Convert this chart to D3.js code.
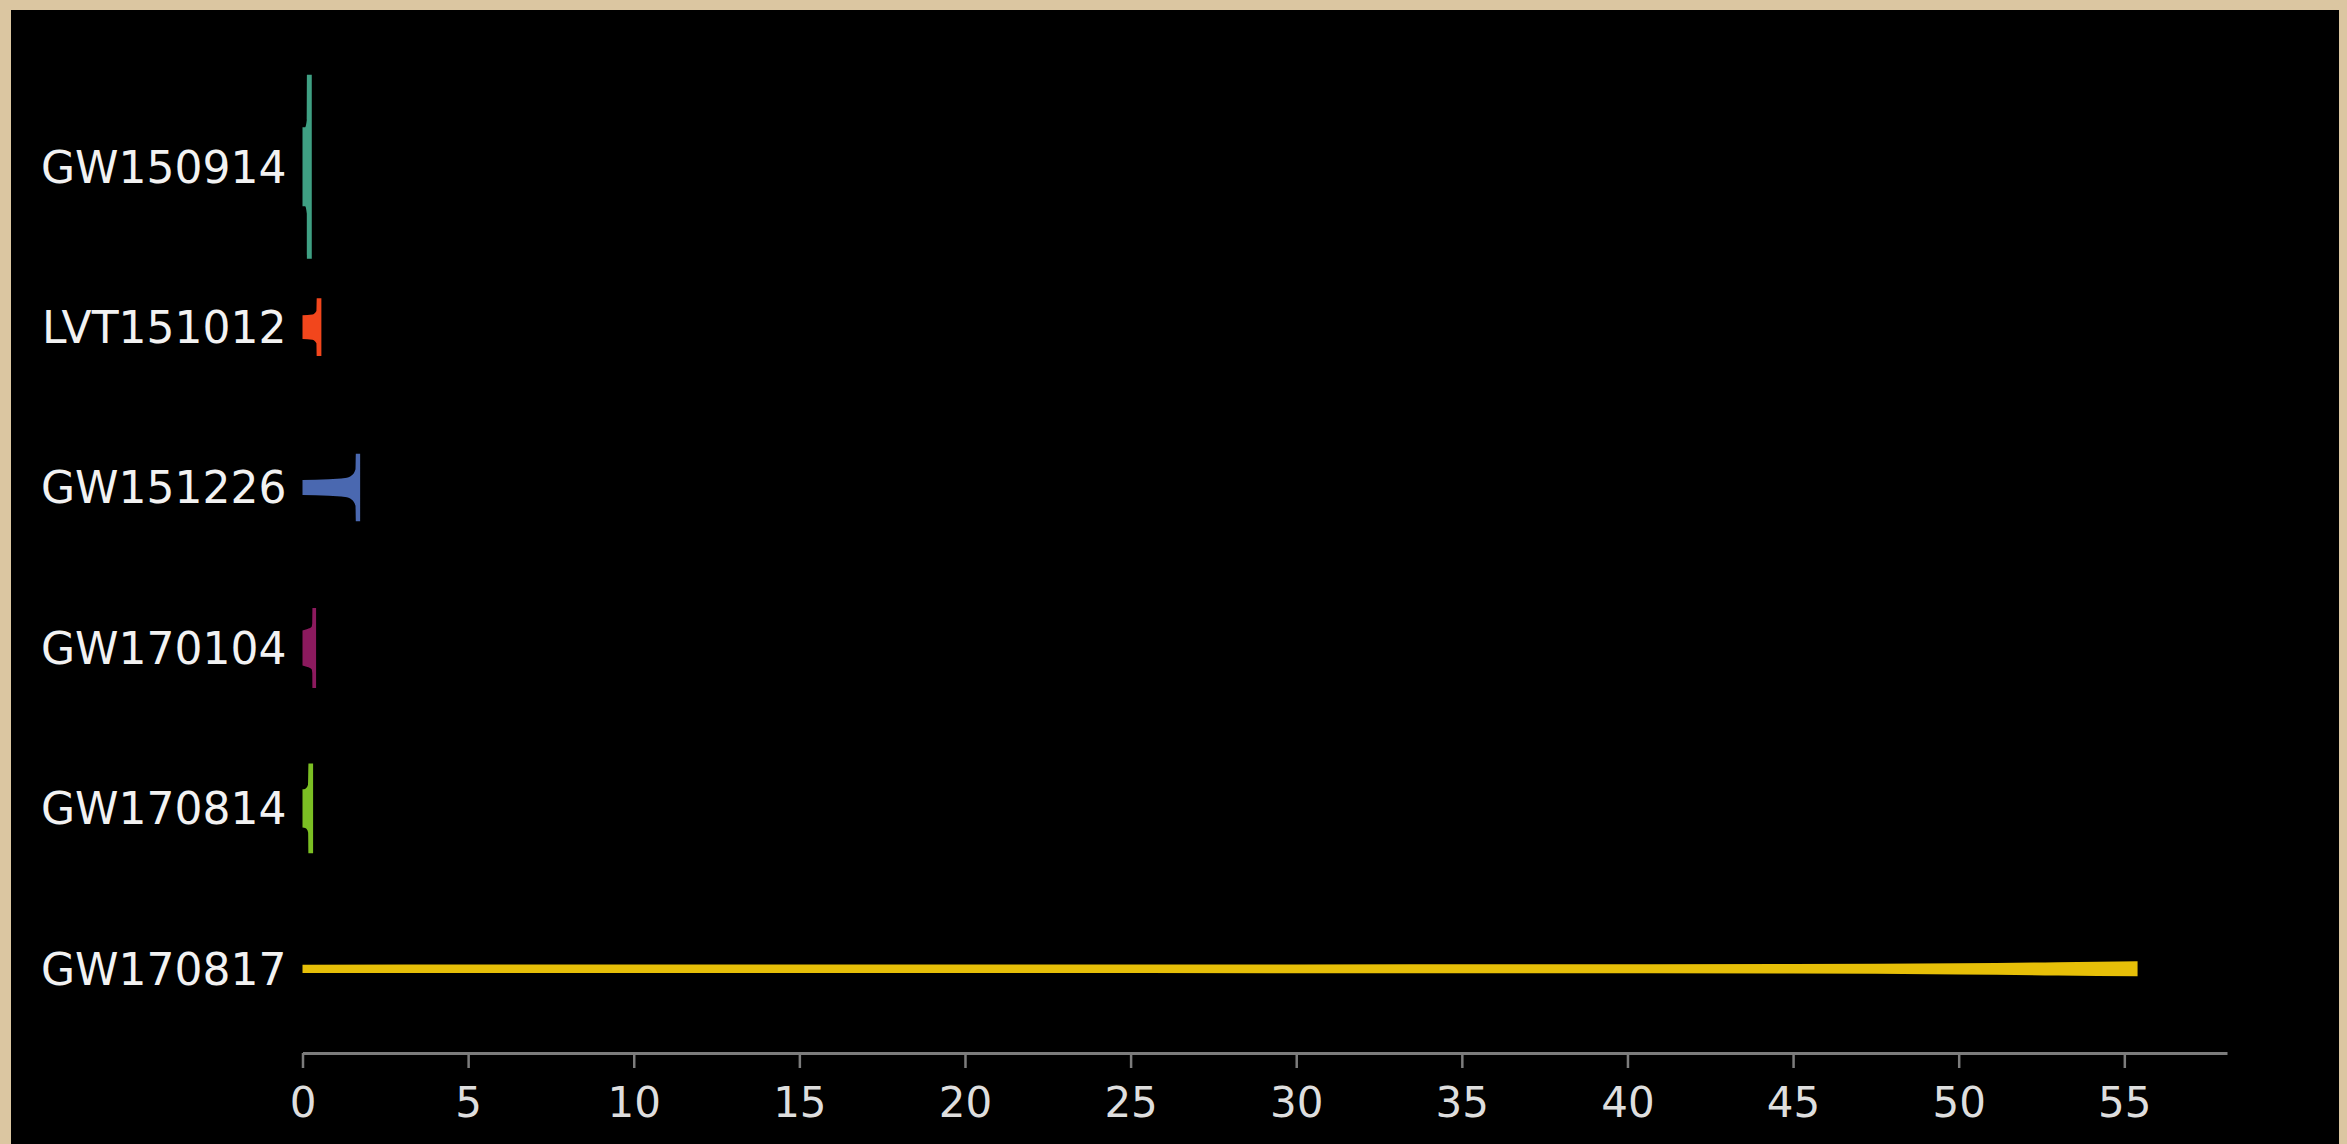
<!DOCTYPE html>
<html>
<head>
<meta charset="utf-8">
<script src="https://cdn.jsdelivr.net/npm/d3@7"></script>
<style>
  html, body { margin: 0; padding: 0; background: #dbc6a1; overflow: hidden; }
  svg { display: block; }
</style>
</head>
<body>
<svg id="chart" width="2347" height="1144"></svg>
<script>
// ---------- data ----------
const events = ["GW150914", "LVT151012", "GW151226", "GW170104", "GW170814", "GW170817"];
const eventColors = ["#3fa083", "#f2461c", "#4a68b0", "#8c1a5e", "#7bbf23", "#e6bf08"];
const xTicks = [0, 5, 10, 15, 20, 25, 30, 35, 40, 45, 50, 55];

// time in band (s) and relative signal amplitude (mirrored half-thickness)
const timeGW150914 = [0, 0.08, 0.13, 0.133, 0.28];
const ampGW150914  = [0.43, 0.43, 0.51, 1.0, 1.0];
const timeLVT151012 = [0, 0.3, 0.42, 0.43, 0.57];
const ampLVT151012  = [0.13, 0.136, 0.174, 0.313, 0.313];
const timeGW151226 = [0, 0.8, 1.29, 1.49, 1.6, 1.61, 1.74];
const ampGW151226  = [0.082, 0.090, 0.103, 0.133, 0.199, 0.367, 0.367];
const timeGW170104 = [0, 0.15, 0.27, 0.295, 0.3, 0.41];
const ampGW170104  = [0.19, 0.207, 0.228, 0.272, 0.435, 0.435];
const timeGW170814 = [0, 0.1, 0.17, 0.18, 0.32];
const ampGW170814  = [0.207, 0.217, 0.261, 0.489, 0.489];
const timeGW170817 = [0, 30, 45, 50, 53, 55.4];
const ampGW170817  = [0.045, 0.048, 0.052, 0.061, 0.072, 0.082];

const times = [timeGW150914, timeLVT151012, timeGW151226, timeGW170104, timeGW170814, timeGW170817];
const amps  = [ampGW150914, ampLVT151012, ampGW151226, ampGW170104, ampGW170814, ampGW170817];

// ---------- layout ----------
const svg = d3.select("#chart");

svg.append("rect")
  .attr("x", 11).attr("y", 10)
  .attr("width", 2328).attr("height", 1134)
  .attr("fill", "#000");

const x = d3.scaleLinear().domain([0, 58.1]).range([302.5, 2227]);
const y = d3.scalePoint().domain(events).range([86.5, 1049]).padding(0.5);
const w = d3.scaleLinear().domain([0, 1]).range([0, 92]);

// ---------- shapes ----------
events.forEach((ev, i) => {
  const pts = times[i].map((t, j) => ({ t: t, a: amps[i][j] }));
  const cy = y(ev);
  const area = d3.area()
    .x(d => x(d.t))
    .y0(d => cy - w(d.a))
    .y1(d => cy + w(d.a))
    .curve(d3.curveMonotoneX);
  svg.append("path")
    .datum(pts)
    .attr("d", area)
    .attr("fill", eventColors[i]);
});

// ---------- axes ----------
const xAxis = d3.axisBottom(x)
  .tickValues(xTicks)
  .tickFormat(d3.format("d"))
  .tickSize(15)
  .tickSizeOuter(0)
  .tickPadding(19);

const gx = svg.append("g")
  .attr("transform", "translate(0,1053)")
  .call(xAxis);
gx.select(".domain").attr("stroke", "#7c7c7c").attr("stroke-width", 3);
gx.selectAll(".tick line").attr("stroke", "#7c7c7c").attr("stroke-width", 2.5);
gx.selectAll(".tick text")
  .attr("fill", "#dedede")
  .style("font-family", "'DejaVu Sans', sans-serif")
  .style("font-size", "42px");

const yAxis = d3.axisLeft(y).tickSize(0).tickPadding(16);
const gy = svg.append("g")
  .attr("transform", "translate(302.5,0)")
  .call(yAxis);
gy.select(".domain").remove();
gy.selectAll(".tick text")
  .attr("fill", "#f2f2f2")
  .attr("dy", "0.35em")
  .style("font-family", "'DejaVu Sans', sans-serif")
  .style("font-size", "44px");
</script>
</body>
</html>
